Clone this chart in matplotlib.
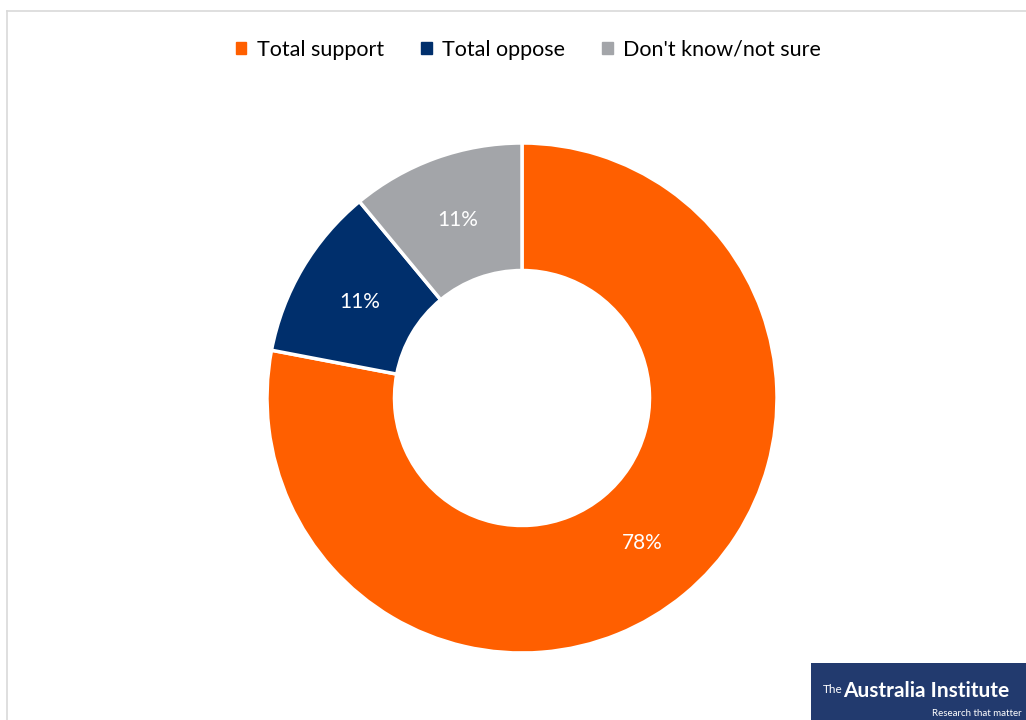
import matplotlib
matplotlib.use("Agg")
import matplotlib.pyplot as plt
import matplotlib.patches as mpatches

# ── Data ─────────────────────────────────────────────────────────────────────
categories = ["Total support", "Total oppose", "Don't know/not sure"]
values     = [78, 11, 11]
colours    = ["#FF5F00", "#002F6C", "#A3A5A9"]

plt.rcParams["font.family"] = ["Lato", "DejaVu Sans"]

fig = plt.figure(figsize=(10.26, 7.2), dpi=100)
fig.patch.set_facecolor("white")

# light frame around the chart area (top + left edges visible)
fig.add_artist(plt.Line2D([7 / 1026, 7 / 1026], [0, 1 - 11 / 720],
                          color="#D9D9D9", linewidth=1.2))
fig.add_artist(plt.Line2D([7 / 1026, 1], [1 - 11 / 720, 1 - 11 / 720],
                          color="#D9D9D9", linewidth=1.2))

# ── Doughnut ─────────────────────────────────────────────────────────────────
cx, cy, R = 522, 720 - 398, 255
ax = fig.add_axes([(cx - R) / 1026, (cy - R) / 720, 2 * R / 1026, 2 * R / 720])
wedges, _, autotexts = ax.pie(
    values, colors=colours, startangle=90, counterclock=False,
    radius=1, autopct=lambda p: f"{p:.0f}%", pctdistance=0.74,
    wedgeprops=dict(width=0.5, edgecolor="white", linewidth=2.5),
    textprops=dict(color="white", fontsize=15),
)
ax.set_xlim(-1, 1)
ax.set_ylim(-1, 1)
ax.set_aspect("equal")
ax.axis("off")

# ── Legend ───────────────────────────────────────────────────────────────────
handles = [mpatches.Patch(color=c, label=l) for c, l in zip(colours, categories)]
fig.legend(handles=handles, loc="center", bbox_to_anchor=(0.515, 1 - 50 / 720),
           ncol=3, frameon=False, fontsize=15.5, handlelength=0.5,
           handleheight=0.5, handletextpad=0.5, columnspacing=1.7)

# ── Logo box ─────────────────────────────────────────────────────────────────
fig.add_artist(mpatches.Rectangle((811 / 1026, 0), 215 / 1026, 57 / 720,
                                  transform=fig.transFigure,
                                  facecolor="#223A6E", edgecolor="none"))
fig.text(823 / 1026, 1 - 693 / 720, "The", color="white", fontsize=8.5,
         va="baseline")
fig.text(843 / 1026, 1 - 697 / 720, "Australia Institute", color="white",
         fontsize=15, weight="bold", va="baseline")
fig.text(1022 / 1026, 1 - 716 / 720, "Research that matter", color="white",
         fontsize=7, ha="right", va="baseline")

fig.savefig("out.png", dpi=100)
